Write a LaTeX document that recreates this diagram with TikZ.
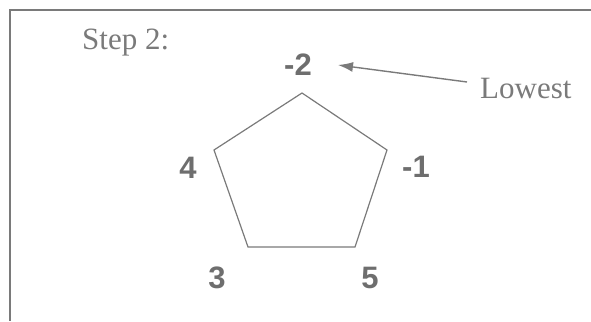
\documentclass[tikz,border=0pt]{standalone}
\usepackage{fontspec}
\setmainfont{Liberation Serif}
\newfontfamily\numfont{Liberation Sans}
\usetikzlibrary{arrows.meta}
\definecolor{ink}{HTML}{7A7A7A}
\definecolor{numink}{HTML}{6E6E6E}
\begin{document}
\begin{tikzpicture}[x=1pt,y=-1pt,
  serif/.style={inner sep=0pt,anchor=base west,text=ink,font=\fontsize{31}{31}\selectfont},
  num/.style={inner sep=0pt,anchor=base,text=numink,font=\numfont\bfseries\fontsize{31}{31}\selectfont},
  edge/.style={draw=ink,line width=1.2pt,line join=miter},
  pointer/.style={draw=ink,line width=1.4pt,-{Latex[length=15pt,width=10pt]}}]
\useasboundingbox (0,0) rectangle (591,321);
% frame (top and left only)
\draw[draw=ink,line width=1.2pt] (591,10) -- (10,10) -- (10,321);
% title
\node[serif] (title) at (82,49) {Step 2:};
\node[serif] (low) at (480,98) {Lowest};
% pentagon
\coordinate (pt) at (302,93);
\coordinate (pur) at (387,150);
\coordinate (pbr) at (355,247);
\coordinate (pbl) at (248,247);
\coordinate (pul) at (214,150);
\draw[edge] (pt) -- (pur) -- (pbr) -- (pbl) -- (pul) -- cycle;
% labels
\node[num] (m2) at (298,75) {-2};
\node[num] (n4) at (188,178) {4};
\node[num] (m1) at (416,177) {-1};
\node[num] (n3) at (217,288) {3};
\node[num] (n5) at (370,288) {5};
% arrow
\coordinate (tail) at (467,82);
\coordinate (tip) at (338,65);
\draw[pointer] (tail) -- (tip);
\end{tikzpicture}
\end{document}
